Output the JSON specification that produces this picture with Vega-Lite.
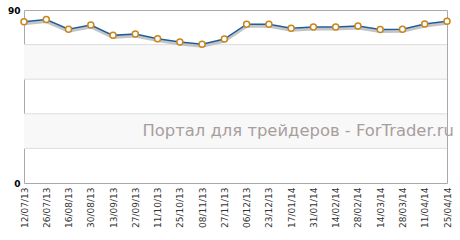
{
  "$schema": "https://vega.github.io/schema/vega-lite/v6.json",
  "width": 423,
  "height": 173,
  "autosize": "none",
  "padding": {"left": 24, "top": 10, "right": 13, "bottom": 57},
  "config": {
    "view": {"stroke": "#aaaaaa", "strokeWidth": 1},
    "font": "DejaVu Sans"
  },
  "datasets": {
    "series": [
      {"date": "12/07/13", "value": 83.9},
      {"date": "26/07/13", "value": 85.0},
      {"date": "16/08/13", "value": 80.0},
      {"date": "30/08/13", "value": 82.2},
      {"date": "13/09/13", "value": 76.8},
      {"date": "27/09/13", "value": 77.5},
      {"date": "11/10/13", "value": 75.1},
      {"date": "25/10/13", "value": 73.4},
      {"date": "08/11/13", "value": 72.2},
      {"date": "27/11/13", "value": 74.9},
      {"date": "06/12/13", "value": 82.6},
      {"date": "23/12/13", "value": 82.6},
      {"date": "17/01/14", "value": 80.5},
      {"date": "31/01/14", "value": 81.2},
      {"date": "14/02/14", "value": 81.2},
      {"date": "28/02/14", "value": 81.7},
      {"date": "14/03/14", "value": 79.8},
      {"date": "28/03/14", "value": 80.0},
      {"date": "11/04/14", "value": 82.7},
      {"date": "25/04/14", "value": 84.1}
    ],
    "bands": [
      {"lo": 18, "hi": 36},
      {"lo": 54, "hi": 72}
    ],
    "grid": [
      {"value": 18}, {"value": 36}, {"value": 54}, {"value": 72}
    ],
    "watermark": [
      {"text": "Портал для трейдеров - ForTrader.ru", "date": "25/04/14", "value": 27}
    ]
  },
  "layer": [
    {
      "data": {"name": "bands"},
      "mark": {"type": "rect", "color": "#f8f8f8"},
      "encoding": {
        "y": {"field": "lo", "type": "quantitative", "scale": {"domain": [0, 90]}},
        "y2": {"field": "hi"}
      }
    },
    {
      "data": {"name": "grid"},
      "mark": {"type": "rule", "color": "#dddddd", "strokeWidth": 1},
      "encoding": {
        "y": {"field": "value", "type": "quantitative"}
      }
    },
    {
      "data": {"name": "watermark"},
      "mark": {"type": "text", "align": "right", "baseline": "middle", "fontSize": 16.4, "color": "#a89e9e", "dx": 7},
      "encoding": {
        "x": {"field": "date", "type": "ordinal"},
        "y": {"field": "value", "type": "quantitative"},
        "text": {"field": "text"}
      }
    },
    {
      "data": {"name": "series"},
      "mark": {"type": "line", "color": "#c4c4c4", "strokeWidth": 3, "yOffset": 2},
      "encoding": {
        "x": {"field": "date", "type": "ordinal"},
        "y": {"field": "value", "type": "quantitative"}
      }
    },
    {
      "data": {"name": "series"},
      "mark": {"type": "line", "color": "#1f5c9c", "strokeWidth": 1.5},
      "encoding": {
        "x": {"field": "date", "type": "ordinal"},
        "y": {"field": "value", "type": "quantitative"}
      }
    },
    {
      "data": {"name": "series"},
      "mark": {"type": "point", "filled": false, "fill": "#ffffff", "fillOpacity": 1, "stroke": "#c8861c", "strokeWidth": 1.5, "size": 36, "opacity": 1},
      "encoding": {
        "x": {
          "field": "date", "type": "ordinal",
          "scale": {"type": "point", "padding": 0, "domain": ["12/07/13","26/07/13","16/08/13","30/08/13","13/09/13","27/09/13","11/10/13","25/10/13","08/11/13","27/11/13","06/12/13","23/12/13","17/01/14","31/01/14","14/02/14","28/02/14","14/03/14","28/03/14","11/04/14","25/04/14"]},
          "axis": {"title": null, "labelAngle": -90, "labelFontSize": 9, "labelColor": "#333333", "ticks": false, "domain": false, "labelPadding": 4, "grid": false}
        },
        "y": {
          "field": "value", "type": "quantitative",
          "scale": {"domain": [0, 90], "nice": false, "zero": true},
          "axis": {"title": null, "values": [0, 90], "labelFontSize": 9, "labelFontWeight": "bold", "labelColor": "#000000", "ticks": false, "domain": false, "grid": false, "labelPadding": 4, "labelOverlap": false, "labelBound": false, "labelFlush": false}
        }
      }
    }
  ]
}
